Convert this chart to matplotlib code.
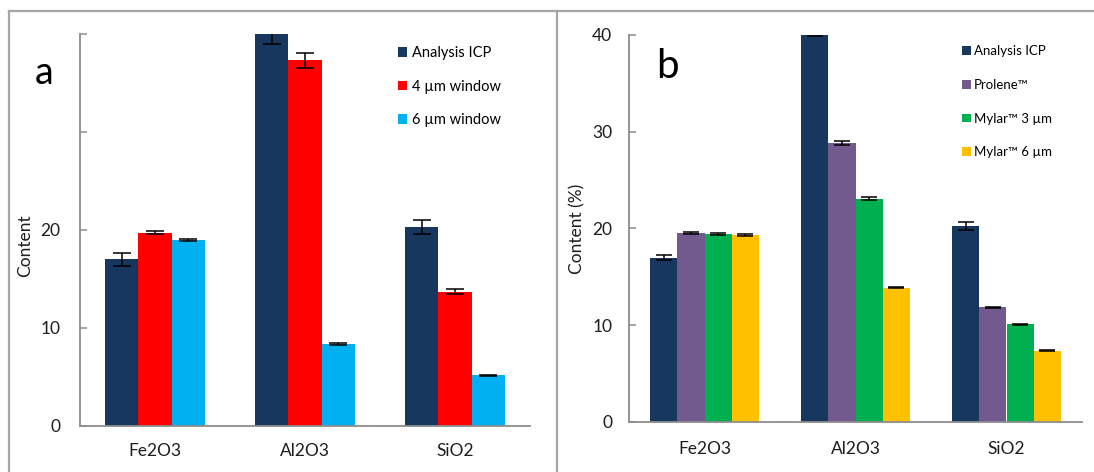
import matplotlib
matplotlib.use("Agg")
import matplotlib.pyplot as plt
import numpy as np
from matplotlib.patches import Patch
from matplotlib.lines import Line2D

################################################################################
# data
################################################################################

oxides = ["Fe2O3", "Al2O3", "SiO2"]

# panel a
labels_a = ["Analysis ICP", "4 µm window", "6 µm window"]
icp_a = [17.0, 40.0, 20.3]
icp_a_err = [0.65, 1.0, 0.7]
win4 = [19.7, 37.3, 13.7]
win4_err = [0.15, 0.8, 0.25]
win6 = [19.0, 8.35, 5.2]
win6_err = [0.1, 0.08, 0.05]

# panel b
labels_b = ["Analysis ICP", "Prolene™", "Mylar™ 3 µm", "Mylar™ 6 µm"]
icp_b = [17.0, 40.0, 20.25]
icp_b_err = [0.3, 0.15, 0.4]
prolene = [19.55, 28.85, 11.85]
prolene_err = [0.1, 0.2, 0.05]
mylar3 = [19.45, 23.1, 10.1]
mylar3_err = [0.1, 0.15, 0.05]
mylar6 = [19.3, 13.9, 7.35]
mylar6_err = [0.1, 0.1, 0.05]

colors_a = ["#17375E", "#FF0000", "#00B0F0"]
colors_b = ["#17375E", "#725A8E", "#00B050", "#FFC000"]

################################################################################
# style
################################################################################

plt.rcParams['font.family'] = ['Lato', 'DejaVu Sans']
AXCOL = "#8C8C8C"
FRAMECOL = "#A6A6A6"
TXT = "#1E1E1E"

W, H = 1094, 472
fig = plt.figure(figsize=(W / 100, H / 100), dpi=100)

def px_axes(x0, y0, x1, y1):
    # pixel box (from top-left) -> figure fraction
    return fig.add_axes([x0 / W, 1 - y1 / H, (x1 - x0) / W, (y1 - y0) / H])

def grouped(ax, series, errs, colors, group_w, capsize):
    n = len(series)
    bw = group_w / n
    x = np.arange(len(oxides))
    for i, (vals, err, col) in enumerate(zip(series, errs, colors)):
        pos = x - group_w / 2 + bw * (i + 0.5)
        ax.bar(pos, vals, bw, color=col, edgecolor='none', zorder=2)
        ax.errorbar(pos, vals, yerr=err, fmt='none', ecolor='black',
                    elinewidth=1.1, capsize=capsize, capthick=1.1, zorder=3)

def style_axes(ax, ypad, xpad):
    ax.set_xlim(-0.5, 2.5)
    ax.set_ylim(0, 40)
    ax.set_xticks(range(len(oxides)))
    ax.set_xticklabels(oxides, fontsize=12.5, color=TXT)
    ax.set_yticks([0, 10, 20, 30, 40])
    for s in ['top', 'right']:
        ax.spines[s].set_visible(False)
    for s in ['left', 'bottom']:
        ax.spines[s].set_color(AXCOL)
        ax.spines[s].set_linewidth(1.3)
    ax.tick_params(axis='y', direction='in', length=5, width=1.1, color=AXCOL,
                   labelsize=12.5, labelcolor=TXT, pad=ypad)
    ax.tick_params(axis='x', length=0, pad=xpad)

################################################################################
# panel a
################################################################################

ax1 = px_axes(80, 34, 530, 426)
grouped(ax1, [icp_a, win4, win6], [icp_a_err, win4_err, win6_err],
        colors_a, 0.667, 6.5)
style_axes(ax1, 14, 12)
ax1.set_yticklabels(["0", "10", "20", "", ""])
ax1.set_ylabel("Content", fontsize=12.5, color=TXT)
ax1.yaxis.set_label_coords(-0.104, 0.46)

h1 = [Patch(facecolor=c, edgecolor='none') for c in colors_a]
ax1.legend(h1, labels_a, loc='upper left', bbox_to_anchor=(398 / W, 1 - 46 / H),
           bbox_transform=fig.transFigure, frameon=False, fontsize=10.5,
           handlelength=0.65, handleheight=0.65, handletextpad=0.3,
           labelspacing=1.35, borderpad=0, borderaxespad=0)
fig.text(44 / W, 1 - 73 / H, "a", fontsize=27, ha='center', va='center')

################################################################################
# panel b
################################################################################

ax2 = px_axes(629, 35, 1082, 422)
grouped(ax2, [icp_b, prolene, mylar3, mylar6],
        [icp_b_err, prolene_err, mylar3_err, mylar6_err],
        colors_b, 0.72, 6)
style_axes(ax2, 12, 14)
ax2.set_ylabel("Content (%)", fontsize=12.5, color=TXT)
ax2.yaxis.set_label_coords(-0.097, 0.5)

h2 = [Patch(facecolor=c, edgecolor='none') for c in colors_b]
ax2.legend(h2, labels_b, loc='upper left', bbox_to_anchor=(962 / W, 1 - 45 / H),
           bbox_transform=fig.transFigure, frameon=False, fontsize=9.5,
           handlelength=0.65, handleheight=0.65, handletextpad=0.25,
           labelspacing=1.65, borderpad=0, borderaxespad=0)
fig.text(667 / W, 1 - 67 / H, "b", fontsize=29, ha='center', va='center')

################################################################################
# panel frames
################################################################################

def fline(xs, ys):
    fig.add_artist(Line2D([x / W for x in xs], [1 - y / H for y in ys],
                          color=FRAMECOL, linewidth=1.6))

fline([9, 9], [11, H])
fline([9, W], [11, 11])
fline([557, 557], [11, H])

fig.savefig("out.png", dpi=100)
